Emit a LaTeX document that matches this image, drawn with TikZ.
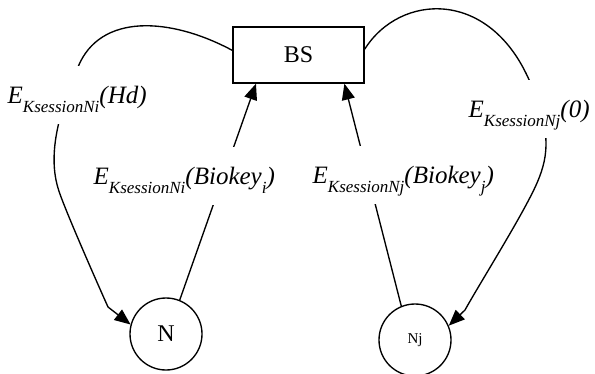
\documentclass[tikz,border=0pt]{standalone}
\usepackage{fontspec}
\setmainfont{Liberation Serif}
\usetikzlibrary{arrows.meta}
\newcommand{\ksub}[1]{\raisebox{-9bp}{\fontsize{17bp}{20bp}\selectfont #1}}

\begin{document}
\begin{tikzpicture}[x=1bp,y=1bp,line width=1.35bp,
    freccia/.style={-{Triangle[length=16bp,width=13bp]}},
    etichetta/.style={fill=white,inner sep=0pt,anchor=base west,text height=37bp,text depth=21bp,
      font=\fontsize{25bp}{30bp}\selectfont\itshape}]
    \useasboundingbox (0,0) rectangle (595,373);

    % stazione base
    \node[draw,minimum width=131bp,minimum height=56bp,inner sep=0pt,font=\fontsize{24bp}{28bp}\selectfont] (bs) at (298.5,318) {BS};

    % nodi
    \node[draw,circle,minimum size=72bp,inner sep=0pt,font=\fontsize{24bp}{28bp}\selectfont] (n) at (166,39) {N};
    \node[draw,circle,minimum size=72bp,inner sep=0pt,font=\fontsize{15bp}{18bp}\selectfont] (nj) at (415,33) {Nj};

    % archi
    \draw[freccia] (bs.176) .. controls (170,356) and (100,360) .. (78,306)
        .. controls (64,272) and (46,225) .. (58,185)
        .. controls (62,170) and (95,95) .. (108,66) -- (n.165);
    \draw[freccia] (n.68) -- (bs.214);
    \draw[freccia] (nj.112) -- (bs.-32);
    \draw[freccia] (bs.5) .. controls (400,380) and (490,385) .. (530,291)
        .. controls (550,244) and (550,220) .. (537,190)
        .. controls (524,160) and (480,90) .. (465,63) -- (nj.23);

    % etichette
    \node[etichetta] (l1) at (7,270) {E\ksub{KsessionNi}(Hd)};
    \node[etichetta] (l2) at (93,189) {E\ksub{KsessionNi}(Biokey\ksub{i})};
    \node[etichetta] (l3) at (312,190) {E\ksub{KsessionNj}(Biokey\ksub{j})};
    \node[etichetta] (l4) at (468,256) {E\ksub{KsessionNj}(0)};
\end{tikzpicture}
\end{document}
